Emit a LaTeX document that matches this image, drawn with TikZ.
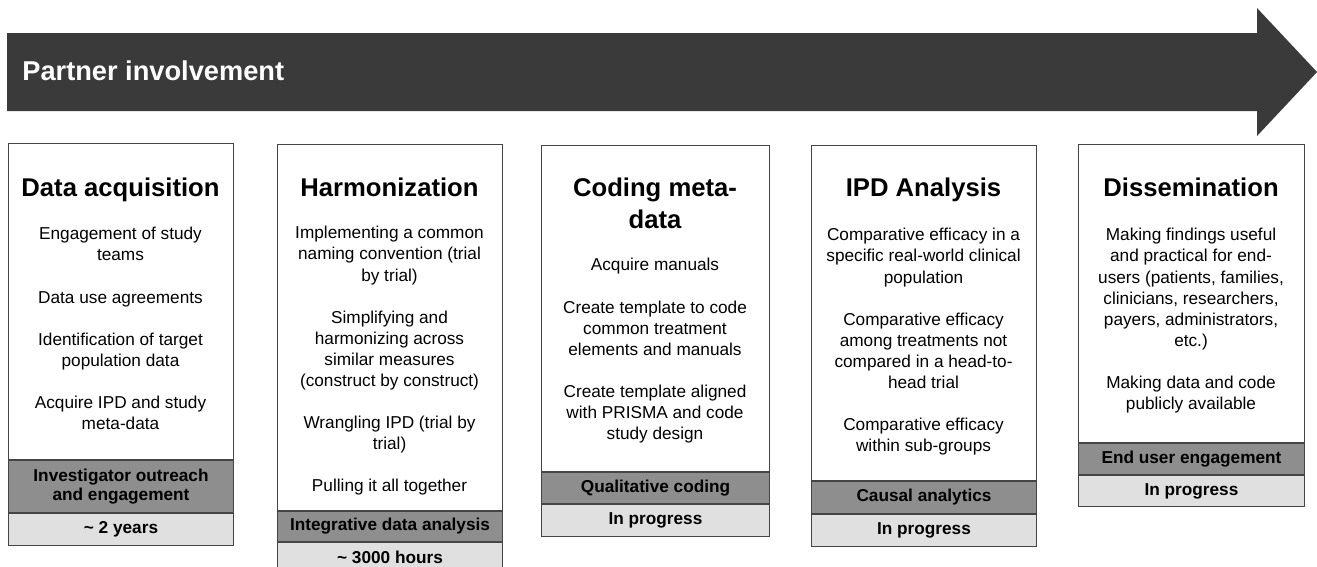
\documentclass[tikz,border=0pt]{standalone}
\usepackage{fontspec}
\setmainfont{Liberation Sans}
\usetikzlibrary{positioning}

\definecolor{bannerfill}{HTML}{3A3A3A}
\definecolor{methodfill}{HTML}{8E8E8E}
\definecolor{spanfill}{HTML}{E0E0E0}
\definecolor{framecol}{HTML}{454545}

\begin{document}
\begin{tikzpicture}[
  x=0.02cm,y=-0.02cm,
  banner/.style={text=white,font=\fontsize{15.5}{18}\selectfont\bfseries,inner sep=0pt,anchor=west},
  stage/.style={draw=framecol,line width=0.6pt,fill=white,minimum width=4.5cm,anchor=north west,inner sep=0pt},
  stitle/.style={font=\fontsize{14.6}{18.1}\selectfont\bfseries,align=center,anchor=north,inner sep=0pt},
  sitem/.style={font=\fontsize{9.8}{12}\selectfont,align=center,anchor=north,inner sep=0pt},
  band/.style={draw=framecol,line width=0.6pt,minimum width=4.5cm,font=\fontsize{9.8}{11.3}\selectfont\bfseries,align=center,inner sep=0pt},
  method/.style={band,fill=methodfill},
  span/.style={band,fill=spanfill}
]
\useasboundingbox (0,0) rectangle (1317,566);

% Partner involvement arrow
\fill[bannerfill] (7,33) -- (1257,33) -- (1257,8) -- (1317,72) -- (1257,136) -- (1257,111) -- (7,111) -- cycle;
\node[banner] (partner) at (22,71) {Partner involvement};

% Stage boxes
\node[stage,minimum height=6.32cm] (acq) at (8,143) {};
\node[stage,minimum height=7.32cm] (harm) at (277,144) {};
\node[stage,minimum width=4.56cm,minimum height=6.52cm] (code) at (541,145) {};
\node[stage,minimum height=6.7cm] (ipd) at (811,145) {};
\node[stage,minimum width=4.52cm,minimum height=5.96cm] (diss) at (1078,144) {};

% Titles
\node[stitle] (acqt) at (120.5,178) {Data acquisition};
\node[stitle] (harmt) at (389.5,178) {Harmonization};
\node[stitle] (codet) at (655,178) {Coding meta-\\data};
\node[stitle] (ipdt) at (923.5,178) {IPD Analysis};
\node[stitle] (disst) at (1191,178) {Dissemination};

% Stage contents
\node[sitem] (acqb) at (120.5,227) {Engagement of study\\teams\\[12pt]
  Data use agreements\\[12pt]
  Identification of target\\population data\\[12pt]
  Acquire IPD and study\\meta-data};
\node[sitem] (harmb) at (389.5,226) {Implementing a common\\naming convention (trial\\by trial)\\[12pt]
  Simplifying and\\harmonizing across\\similar measures\\(construct by construct)\\[12pt]
  Wrangling IPD (trial by\\trial)\\[12pt]
  Pulling it all together};
\node[sitem] (codeb) at (655,258) {Acquire manuals\\[12pt]
  Create template to code\\common treatment\\elements and manuals\\[12pt]
  Create template aligned\\with PRISMA and code\\study design};
\node[sitem] (ipdb) at (923.5,228) {Comparative efficacy in a\\specific real-world clinical\\population\\[12pt]
  Comparative efficacy\\among treatments not\\compared in a head-to-\\head trial\\[12pt]
  Comparative efficacy\\within sub-groups};
\node[sitem] (dissb) at (1191,228) {Making findings useful\\and practical for end-\\users (patients, families,\\clinicians, researchers,\\payers, administrators,\\etc.)\\[12pt]
  Making data and code\\publicly available};

% Method bands
\node[method,minimum height=1.04cm,below=0pt of acq] (acqm) {Investigator outreach\\and engagement};
\node[method,minimum height=0.6cm,below=0pt of harm] (harmm) {Integrative data analysis};
\node[method,minimum width=4.56cm,minimum height=0.62cm,below=0pt of code] (codem) {Qualitative coding};
\node[method,minimum height=0.64cm,below=0pt of ipd] (ipdm) {Causal analytics};
\node[method,minimum width=4.52cm,minimum height=0.62cm,below=0pt of diss] (dissm) {End user engagement};

% Time spans
\node[span,minimum height=0.64cm,below=0pt of acqm] (acqs) {\textasciitilde\ 2 years};
\node[span,minimum height=0.6cm,below=0pt of harmm] (harms) {\textasciitilde\ 3000 hours};
\node[span,minimum width=4.56cm,minimum height=0.64cm,below=0pt of codem] (codes) {In progress};
\node[span,minimum height=0.64cm,below=0pt of ipdm] (ipds) {In progress};
\node[span,minimum width=4.52cm,minimum height=0.62cm,below=0pt of dissm] (disss) {In progress};

\end{tikzpicture}
\end{document}
